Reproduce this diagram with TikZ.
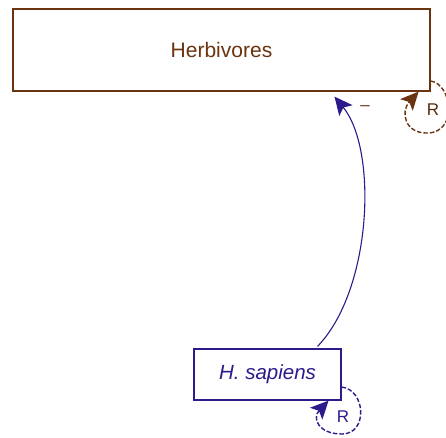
\documentclass[tikz,border=0pt]{standalone}
\usepackage{fontspec}
\setmainfont{Liberation Sans}
\usetikzlibrary{arrows.meta}
\definecolor{herbc}{HTML}{6B3410}
\definecolor{hsc}{HTML}{2B1B8C}
\tikzset{
  stockbox/.style={draw, line width=1.2pt, fill=white, inner sep=0pt},
  bigarrow/.style={-{Stealth[length=18pt,width=17pt,inset=4pt]}},
  loopline/.style={dash pattern=on 4.5pt off 2pt, line width=1.4pt, bigarrow},
  lbl/.style={font=\fontsize{17}{17}\selectfont, inner sep=0pt}
}
\begin{document}
\begin{tikzpicture}[x=1pt,y=-1pt]
\useasboundingbox (0,0) rectangle (446,437);
\node[stockbox, draw=herbc, text=herbc, minimum width=417pt, minimum height=82pt,
  font=\fontsize{21}{21}\selectfont] (herb) at (221.5,50) {Herbivores};
\node[stockbox, draw=hsc, text=hsc, minimum width=147pt, minimum height=51pt,
  font=\fontsize{20.5}{20.5}\selectfont\itshape] (hs) at (267.5,374.5) {H. sapiens};
% influence curve
\draw[hsc, line width=1.1pt, bigarrow] ([xshift=50pt,yshift=2pt]hs.north)
  .. controls (372,290) and (378,150) .. ([xshift=113pt,yshift=-5pt]herb.south);
\node[lbl, text=herbc] (minus) at (365,108) {--};
% herbivore loop
\draw[herbc, loopline] ([yshift=-31pt]herb.east)
  .. controls (452,84) and (458,132) .. (428,133)
  .. controls (405,134) and (400,112) .. ([xshift=-12pt]herb.south east);
\node[lbl, text=herbc!80!black] (r1) at (433,110) {R};
% H. sapiens loop
\draw[hsc, loopline] ([yshift=-12.5pt]hs.east)
  .. controls (366,390) and (368,434) .. (342,434)
  .. controls (318,434) and (312,418) .. ([xshift=-13pt]hs.south east);
\node[lbl, text=hsc] (r2) at (343,417) {R};
\end{tikzpicture}
\end{document}
